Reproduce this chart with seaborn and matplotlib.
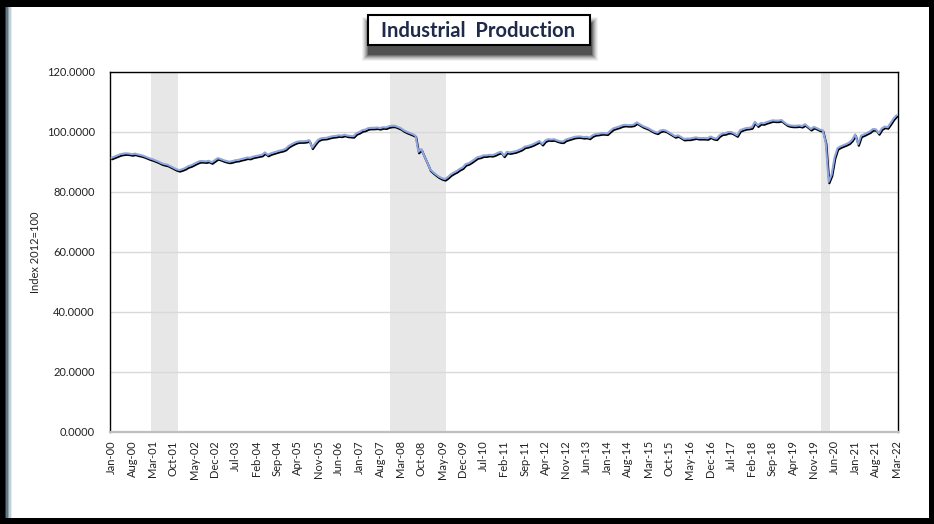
import numpy as np
import pandas as pd
import matplotlib
matplotlib.use("Agg")
import matplotlib.pyplot as plt
import matplotlib.patheffects as pe
from matplotlib.patches import Rectangle
import seaborn as sns

# Monthly industrial production index, Jan-2000 .. Mar-2022
ip_2000 = [91.4, 91.8, 92.2, 92.6, 92.8, 92.9, 92.8, 92.6, 92.8, 92.5, 92.3, 92.0]
ip_2001 = [91.6, 91.2, 90.9, 90.5, 90.1, 89.6, 89.3, 89.1, 88.6, 88.1, 87.6, 87.3]
ip_2002 = [87.6, 88.0, 88.6, 88.9, 89.4, 89.9, 90.3, 90.3, 90.2, 90.4, 89.9, 90.6]
ip_2003 = [91.3, 91.0, 90.6, 90.3, 90.1, 90.3, 90.6, 90.7, 91.0, 91.2, 91.5, 91.4]
ip_2004 = [91.8, 92.0, 92.2, 92.4, 93.2, 92.4, 92.9, 93.2, 93.5, 93.8, 94.0, 94.4]
ip_2005 = [95.3, 95.9, 96.4, 96.8, 96.9, 96.9, 97.0, 97.3, 94.8, 96.2, 97.4, 97.9]
ip_2006 = [98.0, 98.1, 98.4, 98.6, 98.7, 98.9, 98.8, 99.1, 98.8, 98.7, 98.6, 99.6]
ip_2007 = [100.0, 100.6, 100.8, 101.3, 101.4, 101.4, 101.5, 101.3, 101.6, 101.5, 101.9, 102.1]
ip_2008 = [102.1, 101.7, 101.3, 100.6, 100.1, 99.7, 99.3, 98.8, 93.4, 94.3, 92.0, 89.8]
ip_2009 = [87.5, 86.6, 85.8, 85.1, 84.6, 84.3, 85.0, 85.9, 86.5, 87.0, 87.7, 88.2]
ip_2010 = [89.3, 89.6, 90.2, 90.9, 91.6, 91.8, 92.2, 92.2, 92.4, 92.3, 92.6, 93.1]
ip_2011 = [93.4, 92.1, 93.4, 93.2, 93.4, 93.6, 94.0, 94.4, 95.1, 95.3, 95.6, 96.0]
ip_2012 = [96.5, 97.0, 96.0, 97.2, 97.6, 97.5, 97.6, 97.2, 96.9, 96.8, 97.5, 97.8]
ip_2013 = [98.1, 98.4, 98.5, 98.5, 98.3, 98.4, 98.1, 98.9, 99.3, 99.4, 99.6, 99.6]
ip_2014 = [99.5, 100.4, 101.2, 101.5, 101.8, 102.2, 102.4, 102.3, 102.3, 102.5, 103.2, 102.6]
ip_2015 = [102.0, 101.6, 101.2, 100.6, 100.1, 99.8, 100.5, 100.7, 100.4, 99.8, 99.2, 98.6]
ip_2016 = [98.9, 98.3, 97.7, 97.8, 97.8, 98.0, 98.2, 98.0, 98.0, 98.0, 97.9, 98.5]
ip_2017 = [98.0, 97.8, 98.9, 99.5, 99.6, 100.0, 100.0, 99.5, 98.9, 100.6, 101.0, 101.3]
ip_2018 = [101.4, 101.6, 103.4, 102.2, 103.0, 102.9, 103.3, 103.6, 103.9, 103.8, 103.8, 104.0]
ip_2019 = [103.2, 102.5, 102.2, 102.1, 102.1, 102.2, 102.0, 102.6, 101.8, 101.0, 101.7, 101.3]
ip_2020 = [100.8, 100.6, 96.5, 83.4, 85.8, 91.5, 94.6, 95.2, 95.6, 96.0, 96.5, 97.5]
ip_2021 = [99.2, 95.9, 98.8, 99.2, 99.7, 100.2, 101.0, 100.9, 99.6, 101.2, 101.8, 101.6]
ip_2022 = [103.0, 104.5, 105.6]

production = (ip_2000 + ip_2001 + ip_2002 + ip_2003 + ip_2004 + ip_2005 + ip_2006
              + ip_2007 + ip_2008 + ip_2009 + ip_2010 + ip_2011 + ip_2012 + ip_2013
              + ip_2014 + ip_2015 + ip_2016 + ip_2017 + ip_2018 + ip_2019 + ip_2020
              + ip_2021 + ip_2022)
months = pd.date_range("2000-01-01", periods=len(production), freq="MS")
month_labels = [m.strftime("%b-%y") for m in months]

# Recession periods (first and last month, inclusive)
recessions = [("2001-03", "2001-11"), ("2007-12", "2009-06"), ("2020-02", "2020-04")]

df = pd.DataFrame({"pos": np.arange(len(production)), "production": production})

sns.set_theme(style="white")
plt.rcParams["font.family"] = ["Lato", "DejaVu Sans"]

W, H = 934, 524
fig = plt.figure(figsize=(W / 100, H / 100), dpi=100)
fig.patch.set_facecolor("white")


def px(x0, y0, w, h):
    """Rectangle in figure fractions from pixel coordinates (top-left origin)."""
    return (x0 / W, 1 - (y0 + h) / H), w / W, h / H


# Outer frame
for (x0, y0, w, h), c in [((0, 0, W, 7), "black"), ((0, H - 6, W, 6), "black"),
                          ((0, 0, 5, H), "black"), ((W - 5, 0, 5, H), "black")]:
    xy, ww, hh = px(x0, y0, w, h)
    fig.patches.append(Rectangle(xy, ww, hh, transform=fig.transFigure,
                                 facecolor=c, edgecolor="none", zorder=5))
for i, c in enumerate(["#2b3a44", "#5f7683", "#91a6b1", "#c3d0d6", "#e6ecef"]):
    xy, ww, hh = px(5 + i * 1.4, 7, 1.5, H - 13)
    fig.patches.append(Rectangle(xy, ww, hh, transform=fig.transFigure,
                                 facecolor=c, edgecolor="none", zorder=5))

ax = fig.add_axes([110 / W, 1 - 432 / H, (898 - 110) / W, (432 - 72) / H])

for start, end in recessions:
    i0 = months.get_loc(pd.Timestamp(start))
    i1 = months.get_loc(pd.Timestamp(end))
    ax.axvspan(i0 - 0.5, i1 + 0.5, color="#E7E7E7", lw=0, zorder=0)

sns.lineplot(data=df, x="pos", y="production", ax=ax, color="#8EA6E0", lw=1.5,
             zorder=3,
             path_effects=[pe.SimpleLineShadow(offset=(0.5, -1.1), shadow_color="black",
                                               alpha=1.0, rho=1.0), pe.Normal()])

ax.set_xlim(-0.5, len(production) - 0.5)
ax.set_ylim(0, 120)
ax.set_yticks(np.arange(0, 121, 20))
ax.set_yticklabels([f"{v:.4f}" for v in np.arange(0, 121, 20)])
tick_pos = np.arange(0, len(production), 7)
ax.set_xticks(tick_pos)
ax.set_xticklabels([month_labels[i] for i in tick_pos], rotation=90)
ax.grid(axis="y", color="#D9D9D9", lw=1)
ax.set_axisbelow(True)
ax.tick_params(axis="both", length=0, labelsize=8, colors="#222222")
ax.tick_params(axis="y", pad=11)
ax.tick_params(axis="x", pad=6)
ax.set_xlabel("")
ax.set_ylabel("Index 2012=100", fontsize=8, color="#222222")
ax.yaxis.set_label_coords((41 - 110) / (898 - 110), 0.5)

for side in ["left", "top", "right"]:
    ax.spines[side].set_color("black")
    ax.spines[side].set_linewidth(1.0)
ax.spines["bottom"].set_color("#BFBFBF")
ax.spines["bottom"].set_linewidth(1.6)

# Title box with soft drop shadow
for k, a in enumerate([0.05, 0.07, 0.09, 0.12, 0.16, 0.22, 0.3]):
    grow = 7 - k
    xy, ww, hh = px(368 - grow + 1, 15 - grow + 9, 222 + 2 * grow, 30 + 2 * grow)
    fig.patches.append(Rectangle(xy, ww, hh, transform=fig.transFigure,
                                 facecolor="black", alpha=a, edgecolor="none", zorder=6))
xy, ww, hh = px(368, 15, 222, 30)
fig.patches.append(Rectangle(xy, ww, hh, transform=fig.transFigure, facecolor="white",
                             edgecolor="black", lw=1.5, zorder=7))
fig.text(478 / W, 1 - 31 / H, "Industrial  Production", ha="center", va="center",
         fontsize=14.5, fontweight="bold", color="#1F2A4A", zorder=8)

fig.savefig("out.png", dpi=100)
